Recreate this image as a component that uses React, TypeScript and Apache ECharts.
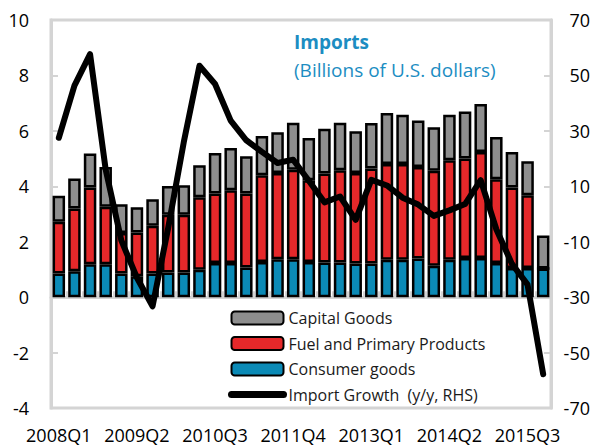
import React, { useEffect, useRef } from "react";
import * as echarts from "echarts";

const categories = [
  "2008Q1", "2008Q2", "2008Q3", "2008Q4",
  "2009Q1", "2009Q2", "2009Q3", "2009Q4",
  "2010Q1", "2010Q2", "2010Q3", "2010Q4",
  "2011Q1", "2011Q2", "2011Q3", "2011Q4",
  "2012Q1", "2012Q2", "2012Q3", "2012Q4",
  "2013Q1", "2013Q2", "2013Q3", "2013Q4",
  "2014Q1", "2014Q2", "2014Q3", "2014Q4",
  "2015Q1", "2015Q2", "2015Q3", "2015Q4",
];

const consumerGoods = [
  0.85, 0.93, 1.19, 1.19, 0.85, 0.75, 0.85, 0.89,
  0.89, 0.99, 1.23, 1.23, 1.07, 1.27, 1.37, 1.37,
  1.27, 1.25, 1.25, 1.21, 1.21, 1.35, 1.35, 1.39,
  1.13, 1.35, 1.41, 1.41, 1.23, 1.05, 1.05, 1.03,
];

const fuelPrimary = [
  1.87, 2.27, 2.77, 2.07, 1.46, 1.58, 1.73, 2.08,
  2.08, 2.61, 2.51, 2.63, 2.67, 3.13, 3.11, 3.23,
  2.95, 3.21, 3.33, 3.27, 3.43, 3.45, 3.45, 3.31,
  3.43, 3.59, 3.59, 3.83, 3.02, 2.91, 2.63, 0,
];

const capitalGoods = [
  0.94, 1.08, 1.22, 1.44, 1.04, 0.91, 0.95, 1.04,
  1.07, 1.16, 1.46, 1.52, 1.34, 1.41, 1.47, 1.69,
  1.52, 1.62, 1.71, 1.51, 1.64, 1.84, 1.78, 1.67,
  1.57, 1.64, 1.70, 1.73, 1.53, 1.28, 1.22, 1.19,
];

const importGrowth = [
  27.5, 46.3, 57.7, 16.0, -9.5, -23.0, -33.3, -5.0,
  26.0, 53.5, 46.9, 33.7, 26.6, 22.4, 18.4, 19.6,
  12.0, 4.2, 6.3, -2.1, 12.3, 10.3, 5.9, 3.4,
  -0.7, 1.3, 3.6, 12.2, -5.5, -18.0, -25.5, -57.8,
];

const leftTicks = { min: -4, max: 10, interval: 2 };
const rightTicks = { min: -70, max: 70, interval: 20 };

const FONT = "'Open Sans', 'Noto Sans', sans-serif";
const GRID_GRAY = "#D4D4D4";
const TEAL = "#1C8DC2";

export default function App() {
  const ref = useRef<HTMLDivElement>(null);

  useEffect(() => {
    if (!ref.current) return;
    const chart = echarts.init(ref.current, undefined, { renderer: "svg" });

    const barBase = {
      type: "bar" as const,
      stack: "imports",
      xAxisIndex: 0,
      yAxisIndex: 0,
      barWidth: "80%",
    };

    chart.setOption({
      animation: false,
      backgroundColor: "#ffffff",
      textStyle: { fontFamily: FONT },
      title: {
        text: "Imports",
        subtext: "(Billions of U.S. dollars)",
        left: 289,
        top: 26,
        itemGap: 7,
        textStyle: { fontFamily: FONT, fontSize: 19, fontWeight: "bold", color: TEAL, lineHeight: 21 },
        subtextStyle: { fontFamily: FONT, fontSize: 19, color: TEAL, lineHeight: 21 },
      },
      grid: {
        left: 51,
        right: 54,
        top: 20,
        bottom: 39,
        show: true,
        borderColor: GRID_GRAY,
        borderWidth: 3,
        backgroundColor: "transparent",
      },
      legend: {
        orient: "vertical",
        left: 228,
        top: 310,
        itemWidth: 52,
        itemHeight: 13,
        itemGap: 9.5,
        padding: 0,
        textStyle: { fontFamily: FONT, fontSize: 16, color: "#1a1a1a" },
        data: [
          { name: "Capital Goods" },
          { name: "Fuel and Primary Products" },
          { name: "Consumer goods" },
          {
            name: "Import Growth  (y/y, RHS)",
            lineStyle: { width: 7, cap: "round" },
            itemStyle: { opacity: 0 },
          },
        ],
      },
      xAxis: [
        {
          type: "category",
          data: categories,
          position: "bottom",
          boundaryGap: true,
          axisLine: { show: false, onZero: false },
          axisTick: { show: false },
          axisLabel: {
            interval: 4,
            fontSize: 18,
            color: "#000",
            fontFamily: FONT,
            margin: 18,
          },
          splitLine: { show: false },
        },
        {
          type: "category",
          data: categories,
          position: "bottom",
          boundaryGap: true,
          axisLine: {
            show: true,
            onZero: true,
            onZeroAxisIndex: 0,
            lineStyle: { color: GRID_GRAY, width: 3 },
          },
          axisTick: {
            show: true,
            inside: true,
            interval: 0,
            length: 6,
            lineStyle: { color: GRID_GRAY, width: 2 },
          },
          axisLabel: { show: false },
          splitLine: { show: false },
        },
      ],
      yAxis: [
        {
          type: "value",
          position: "left",
          min: leftTicks.min,
          max: leftTicks.max,
          interval: leftTicks.interval,
          axisLine: { show: true, lineStyle: { color: GRID_GRAY, width: 3 } },
          axisTick: { show: true, inside: true, length: 7, lineStyle: { color: GRID_GRAY, width: 2 } },
          axisLabel: { fontSize: 18, color: "#000", fontFamily: FONT, margin: 22 },
          splitLine: { show: false },
        },
        {
          type: "value",
          position: "right",
          min: rightTicks.min,
          max: rightTicks.max,
          interval: rightTicks.interval,
          axisLine: { show: true, lineStyle: { color: GRID_GRAY, width: 3 } },
          axisTick: { show: true, inside: true, length: 7, lineStyle: { color: GRID_GRAY, width: 2 } },
          axisLabel: { fontSize: 18, color: "#000", fontFamily: FONT, margin: 39, align: "right" },
          splitLine: { show: false },
        },
      ],
      series: [
        {
          ...barBase,
          name: "Consumer goods",
          data: consumerGoods,
          itemStyle: { color: "#0B8AB6", borderColor: "#000", borderWidth: 2.5 },
        },
        {
          ...barBase,
          name: "Fuel and Primary Products",
          data: fuelPrimary,
          itemStyle: { color: "#E5282A", borderColor: "#000", borderWidth: 2.5 },
        },
        {
          ...barBase,
          name: "Capital Goods",
          data: capitalGoods,
          itemStyle: { color: "#8E8E8E", borderColor: "#000", borderWidth: 2.5 },
        },
        {
          type: "line",
          name: "Import Growth  (y/y, RHS)",
          xAxisIndex: 0,
          yAxisIndex: 1,
          data: importGrowth,
          symbol: "none",
          smooth: false,
          z: 5,
          lineStyle: { color: "#000", width: 6, cap: "round", join: "round" },
          itemStyle: { color: "#000" },
        },
      ],
    });

    return () => chart.dispose();
  }, []);

  return (
    <div
      ref={ref}
      style={{ width: 605, height: 447, position: "absolute", left: 0, top: 0 }}
    />
  );
}
